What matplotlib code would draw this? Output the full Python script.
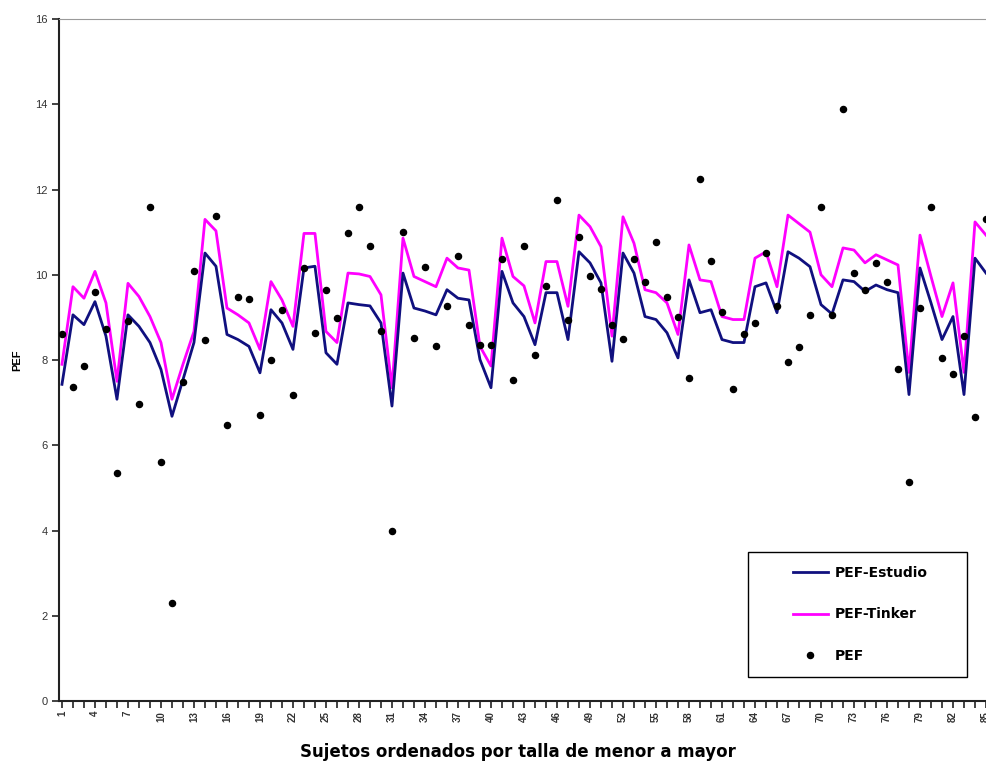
"""PEF por sujeto: valores medidos frente a las dos ecuaciones de referencia."""
import matplotlib
matplotlib.use("Agg")
import matplotlib.pyplot as plt
from matplotlib.lines import Line2D
from matplotlib.patches import Rectangle

# sujetos ordenados por talla (1..85, el grafico original se corta en 85)
sujetos = list(range(1, 86))

pef_estudio = [
    7.43, 9.06, 8.83, 9.37, 8.56, 7.08, 9.06, 8.79, 8.41, 7.78,
    6.68, 7.54, 8.41, 10.51, 10.20, 8.60, 8.48, 8.32, 7.70, 9.18,
    8.87, 8.25, 10.16, 10.20, 8.17, 7.90, 9.34, 9.30, 9.27, 8.87,
    6.92, 10.04, 9.22, 9.15, 9.06, 9.65, 9.45, 9.41, 8.01, 7.35,
    10.08, 9.34, 9.02, 8.36, 9.58, 9.58, 8.48, 10.54, 10.28, 9.81,
    7.97, 10.51, 10.04, 9.02, 8.95, 8.64, 8.05, 9.88, 9.11, 9.18,
    8.48, 8.41, 8.41, 9.72, 9.81, 9.11, 10.54, 10.39, 10.19, 9.30,
    9.08, 9.88, 9.84, 9.61, 9.76, 9.65, 9.58, 7.19, 10.16, 9.34,
    8.48, 9.02, 7.19, 10.39, 10.04,
]

pef_tinker = [
    7.90, 9.72, 9.45, 10.08, 9.34, 7.50, 9.80, 9.49, 9.02, 8.41,
    7.08, 7.90, 8.67, 11.30, 11.03, 9.22, 9.06, 8.87, 8.25, 9.84,
    9.41, 8.79, 10.97, 10.97, 8.67, 8.41, 10.04, 10.02, 9.96, 9.53,
    7.35, 10.86, 9.96, 9.84, 9.72, 10.39, 10.16, 10.11, 8.32, 7.86,
    10.86, 9.96, 9.74, 8.87, 10.31, 10.31, 9.26, 11.40, 11.13, 10.66,
    8.56, 11.36, 10.74, 9.65, 9.58, 9.34, 8.60, 10.70, 9.88, 9.84,
    9.02, 8.95, 8.95, 10.39, 10.54, 9.72, 11.40, 11.20, 11.00, 10.00,
    9.72, 10.63, 10.58, 10.28, 10.47, 10.35, 10.23, 7.71, 10.93, 9.96,
    9.02, 9.81, 7.71, 11.24, 10.93,
]

pef_medido = [
    8.61, 7.37, 7.86, 9.59, 8.73, 5.35, 8.91, 6.98, 11.59, 5.60,
    2.31, 7.49, 10.10, 8.46, 11.38, 6.48, 9.49, 9.44, 6.71, 8.00,
    9.18, 7.19, 10.16, 8.64, 9.65, 8.99, 10.97, 11.59, 10.67, 8.67,
    3.99, 11.01, 8.51, 10.18, 8.34, 9.27, 10.43, 8.82, 8.35, 8.35,
    10.38, 7.54, 10.67, 8.11, 9.74, 11.75, 8.93, 10.89, 9.96, 9.66,
    8.83, 8.49, 10.37, 9.84, 10.76, 9.49, 9.01, 7.58, 12.24, 10.32,
    9.13, 7.33, 8.61, 8.87, 10.50, 9.26, 7.95, 8.30, 9.05, 11.58,
    9.05, 13.88, 10.04, 9.65, 10.27, 9.84, 7.80, 5.14, 9.22, 11.59,
    8.05, 7.68, 8.56, 6.66, 11.30,
]

y_ticks = list(range(0, 17, 2))

AZUL = "#10107f"
MAGENTA = "#ff00ff"
FONT = "Liberation Sans"
FONT_ANCHA = "DejaVu Sans"   # el original se ve estirado en horizontal

fig = plt.figure(figsize=(9.86, 7.67), dpi=100)
ax = fig.add_axes([0.0598, 0.0860, 0.9402, 0.8892])

ax.plot(sujetos, pef_estudio, color=AZUL, lw=2.0, zorder=3)
ax.plot(sujetos, pef_tinker, color=MAGENTA, lw=2.0, zorder=2)
ax.plot(sujetos, pef_medido, "o", color="black", ms=4.4, zorder=4)

ax.set_xlim(0.727, 85.0)
ax.set_ylim(0, 16)

ax.set_xticks(sujetos)
ax.set_xticklabels([str(s) if (s - 1) % 3 == 0 else "" for s in sujetos],
                   rotation=90, fontsize=7, fontweight="bold", family=FONT,
                   color="#333333")
ax.set_yticks(y_ticks)
ax.set_yticklabels([str(v) for v in y_ticks], fontsize=8, family=FONT,
                   color="#333333")
ax.tick_params(axis="both", direction="out", length=5, width=1.2,
               color="#222222")
ax.tick_params(axis="x", pad=2)
ax.tick_params(axis="y", pad=3)

for side in ("left", "bottom"):
    ax.spines[side].set_linewidth(1.5)
    ax.spines[side].set_color("#222222")
ax.spines["top"].set_color("#9a9a9a")
ax.spines["top"].set_linewidth(0.8)
ax.spines["right"].set_visible(False)

fig.text(0.018, 1 - 360 / 767, "PEF", rotation=90, ha="center", va="center",
         fontsize=8, fontweight="bold", family=FONT)
fig.text(518 / 986, 1 - 752 / 767,
         "Sujetos ordenados por talla de menor a mayor",
         ha="center", va="center", fontsize=12, fontweight="bold",
         family=FONT_ANCHA)

# leyenda con recuadro propio, como en la hoja de calculo original
fig.patches.append(Rectangle((748 / 986, 1 - 677 / 767),
                             (967 - 748) / 986, (677 - 552) / 767,
                             transform=fig.transFigure, fill=False,
                             edgecolor="black", lw=1.0))
handles = [
    Line2D([], [], color=AZUL, lw=2.0),
    Line2D([], [], color=MAGENTA, lw=2.0),
    Line2D([], [], ls="none", marker="o", color="black", ms=4.4),
]
fig.legend(handles, ["PEF-Estudio", "PEF-Tinker", "PEF"],
           loc="center left", bbox_to_anchor=(786 / 986, 1 - 614.5 / 767),
           frameon=False, borderpad=0, handlelength=2.5, handletextpad=0.5,
           labelspacing=2.0, numpoints=1,
           prop={"family": FONT_ANCHA, "weight": "bold", "size": 10})

fig.savefig("out.png", dpi=100)
